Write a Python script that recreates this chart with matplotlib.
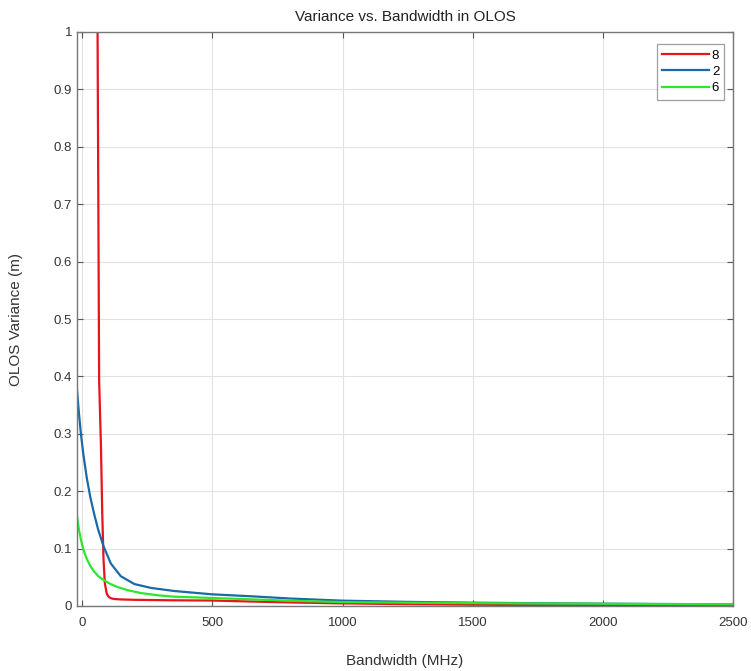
import matplotlib.pyplot as plt

plt.rcParams['font.family'] = ['Liberation Sans', 'DejaVu Sans']

# values
red_x = [50, 59, 62, 65, 72, 77, 82, 87, 94, 99, 104, 112, 123, 150, 200, 262, 354, 500, 646, 800,
         1000, 1250, 1500, 1750, 2000, 2250, 2500]
red_y = [1.5, 1.0, 0.70, 0.394, 0.278, 0.161, 0.080, 0.0395, 0.022, 0.0175, 0.0151, 0.0133, 0.0122, 0.0114,
         0.0108, 0.0104, 0.0099, 0.0095, 0.0078, 0.0062, 0.0045, 0.0032, 0.0022, 0.0016, 0.0012, 0.001, 0.0008]

blue_x = [-20, -13, -5, 5, 18, 31, 46, 62, 82, 110, 148, 200, 264, 354, 500, 646, 800, 1000, 1250, 1500,
          1750, 2000, 2250, 2500]
blue_y = [0.377, 0.338, 0.300, 0.262, 0.222, 0.190, 0.160, 0.132, 0.104, 0.074, 0.052, 0.0383, 0.0315,
          0.0261, 0.0203, 0.0170, 0.0130, 0.0093, 0.0072, 0.0058, 0.0048, 0.0040, 0.0034, 0.0030]

green_x = [-20, -13, -5, 1, 10, 20, 32, 46, 64, 85, 108, 136, 175, 226, 290, 354, 500, 646, 800, 1000,
           1250, 1500, 1750, 2000, 2250, 2500]
green_y = [0.156, 0.134, 0.116, 0.104, 0.091, 0.080, 0.069, 0.060, 0.051, 0.0445, 0.0385, 0.0330, 0.0275,
           0.0225, 0.0187, 0.0162, 0.0140, 0.0116, 0.0092, 0.0068, 0.0058, 0.0050, 0.0044, 0.0039, 0.0034,
           0.0030]

labels = ["8", "2", "6"]

fig = plt.figure(figsize=(7.51, 6.71), dpi=100)
ax = fig.add_axes([77/751, 65/671, 656/751, 574/671])

ax.plot(red_x, red_y, color="#e8141b", lw=1.6, label=labels[0])
ax.plot(blue_x, blue_y, color="#1b6aa5", lw=1.6, label=labels[1])
ax.plot(green_x, green_y, color="#2ee62e", lw=1.6, label=labels[2])

ax.set_xlim(-20, 2500)
ax.set_ylim(0, 1)
ax.set_xticks([0, 500, 1000, 1500, 2000, 2500])
ax.set_yticks([i / 10 for i in range(11)])
ax.set_yticklabels(["0", "0.1", "0.2", "0.3", "0.4", "0.5", "0.6", "0.7", "0.8", "0.9", "1"])

# matlab look: grid, gray box, ticks inside on all sides
ax.grid(True, color="#e2e2e2", lw=0.8)
ax.set_axisbelow(True)
for s in ax.spines.values():
    s.set_color("#777777")
    s.set_linewidth(1.0)
ax.tick_params(direction="in", top=True, right=True, length=4, color="#555555",
               labelcolor="#333333", labelsize=9.5)
ax.tick_params(axis="x", pad=8)

ax.set_title("Variance vs. Bandwidth in OLOS", fontsize=11, color="#222222", pad=8)
ax.set_xlabel("Bandwidth (MHz)", fontsize=11, color="#333333", labelpad=18)
ax.set_ylabel("OLOS Variance (m)", fontsize=11, color="#333333", labelpad=22)

leg = ax.legend(loc="upper right", bbox_to_anchor=(0.987, 0.979), borderaxespad=0, fontsize=9.5,
                handlelength=3.5, handletextpad=0.25, borderpad=0.4, labelspacing=0.32, fancybox=False)
leg.get_frame().set_edgecolor("#888888")
leg.get_frame().set_linewidth(0.9)

fig.savefig("out.png", dpi=100)
